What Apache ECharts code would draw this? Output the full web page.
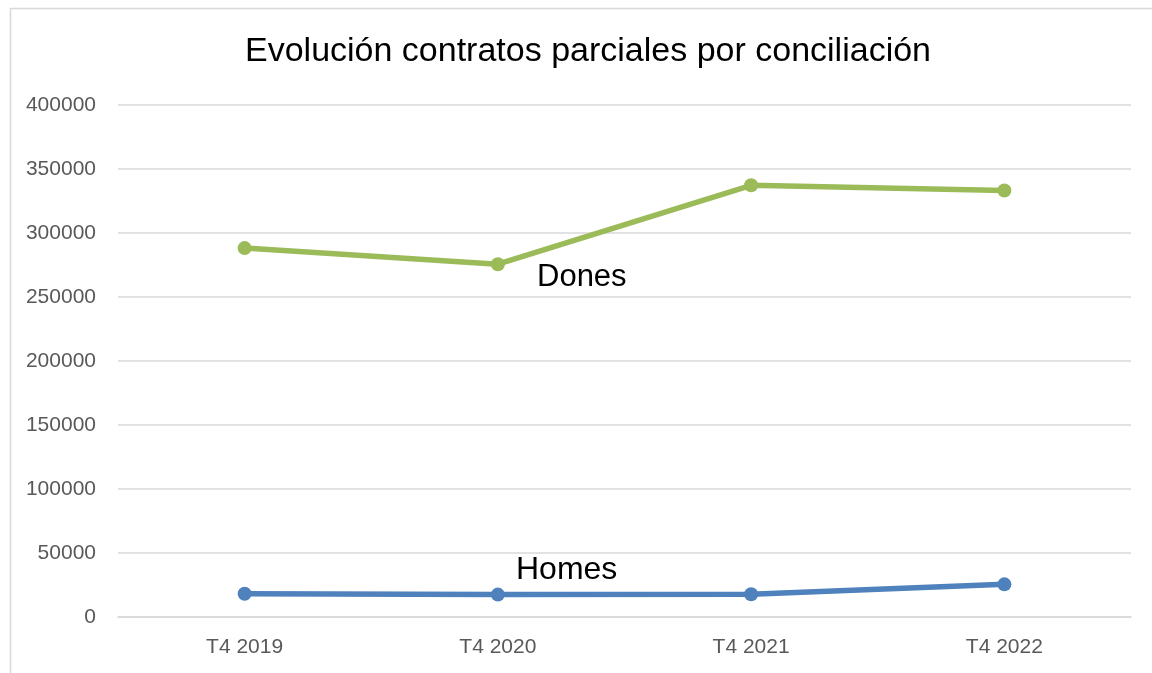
<!DOCTYPE html>
<html>
<head>
<meta charset="utf-8">
<script src="https://cdn.jsdelivr.net/npm/echarts@6/dist/echarts.min.js"></script>
<style>html,body{margin:0;padding:0;background:#fff;}#c{width:1152px;height:673px;}</style>
</head>
<body>
<div id="c"></div>
<script>
const categories = ['T4 2019', 'T4 2020', 'T4 2021', 'T4 2022'];
const homes = [18200, 17500, 17800, 25500];
const dones = [288200, 275600, 337300, 333200];
const yTicks = [0, 50000, 100000, 150000, 200000, 250000, 300000, 350000, 400000];
const titleText = 'Evolución contratos parciales por conciliación';

const chart = echarts.init(document.getElementById('c'), null, {renderer: 'canvas'});
const font = '"Liberation Sans", Arial, sans-serif';
chart.setOption({
  animation: false,
  backgroundColor: '#ffffff',
  title: {
    text: titleText, left: 583, top: 30, textAlign: 'center',
    textStyle: {fontFamily: font, fontSize: 34, fontWeight: 'normal', color: '#000000'}
  },
  grid: {left: 118, right: 21, top: 105, bottom: 56},
  xAxis: {
    type: 'category', data: categories, boundaryGap: true,
    axisLine: {lineStyle: {color: '#d9d9d9', width: 1.5}},
    axisTick: {show: false},
    axisLabel: {fontFamily: font, fontSize: 21, color: '#595959', margin: 20}
  },
  yAxis: {
    type: 'value', min: yTicks[0], max: yTicks[yTicks.length - 1], interval: 50000,
    axisLine: {show: false}, axisTick: {show: false},
    axisLabel: {fontFamily: font, fontSize: 21, color: '#595959', margin: 22,
                formatter: function (v) { return String(v); }},
    splitLine: {lineStyle: {color: '#d9d9d9', width: 1.5}}
  },
  series: [
    {
      name: 'Dones', type: 'line', data: dones, symbol: 'circle', symbolSize: 14,
      lineStyle: {color: '#9bbb59', width: 5.5}, itemStyle: {color: '#9bbb59'},
      z: 3
    },
    {
      name: 'Homes', type: 'line', data: homes, symbol: 'circle', symbolSize: 14,
      lineStyle: {color: '#4f81bd', width: 5.5}, itemStyle: {color: '#4f81bd'},
      z: 3
    }
  ],
  graphic: [
    {type: 'rect', left: 8, top: 6, z: -10, silent: true,
     shape: {width: 1300, height: 800},
     style: {fill: 'none', stroke: '#d9d9d9', lineWidth: 1.5}},
    {type: 'text', left: 537, top: 262, z: 10,
     style: {text: 'Dones', fontFamily: font, fontSize: 31, fill: '#000000',
             shadowColor: 'rgba(0,0,0,0.35)', shadowBlur: 2, shadowOffsetX: 1, shadowOffsetY: 1}},
    {type: 'text', left: 516, top: 554, z: 10,
     style: {text: 'Homes', fontFamily: font, fontSize: 32, fill: '#000000',
             shadowColor: 'rgba(0,0,0,0.35)', shadowBlur: 2, shadowOffsetX: 1, shadowOffsetY: 1}}
  ]
});
</script>
</body>
</html>
